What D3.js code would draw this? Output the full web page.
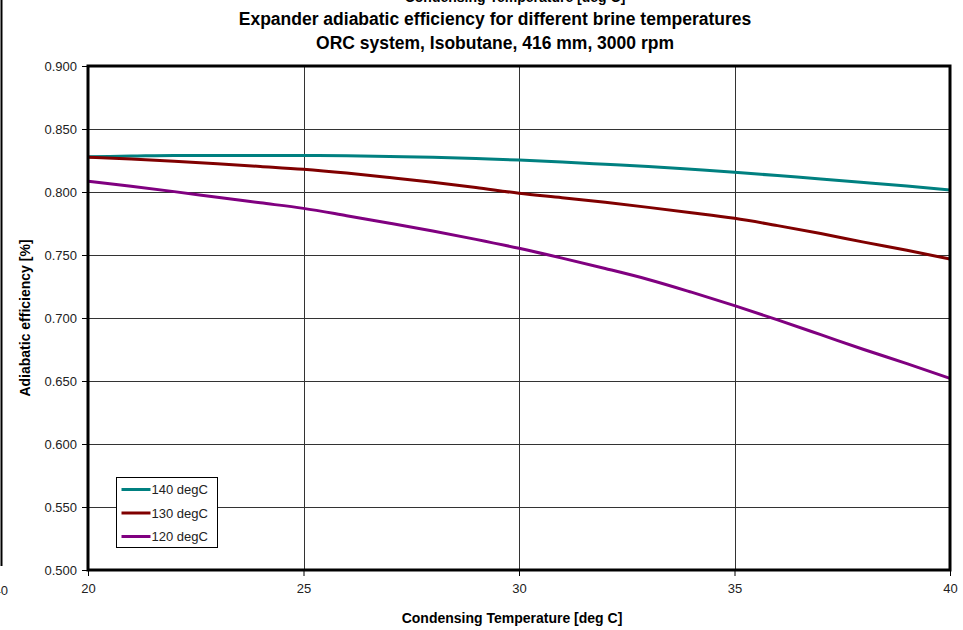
<!DOCTYPE html>
<html>
<head>
<meta charset="utf-8">
<script src="https://cdn.jsdelivr.net/npm/d3@7"></script>
<style>
  body { margin: 0; background: #fff; }
  svg text { font-family: Arial, "Liberation Sans", sans-serif; }
</style>
</head>
<body>
<svg width="963" height="630"></svg>
<script>
// condensing temperature [deg C]
var temps = [20, 21, 22, 23, 24, 25, 26, 27, 28, 29, 30, 31, 32, 33, 34, 35, 36, 37, 38, 39, 40];

// adiabatic efficiency per brine temperature
var eff140 = [0.828, 0.8285, 0.829, 0.829, 0.829, 0.829, 0.8288, 0.8282, 0.8275, 0.8265, 0.8254,
              0.8238, 0.822, 0.8202, 0.818, 0.8157, 0.813, 0.8104, 0.8076, 0.8047, 0.8016];
var eff130 = [0.8276, 0.8262, 0.8245, 0.8225, 0.8203, 0.818, 0.815, 0.8115, 0.8078, 0.8036, 0.799,
              0.7955, 0.7918, 0.7878, 0.7836, 0.7791, 0.7733, 0.767, 0.7602, 0.7537, 0.7468];
var eff120 = [0.8085, 0.8045, 0.8003, 0.7958, 0.7914, 0.787, 0.7812, 0.7752, 0.769, 0.7624, 0.7553,
              0.7475, 0.7393, 0.7306, 0.7205, 0.7098, 0.6985, 0.6868, 0.675, 0.6638, 0.6521];

var seriesNames = ["140 degC", "130 degC", "120 degC"];
var seriesColors = ["#008080", "#800000", "#800080"];

var xTicks = [20, 25, 30, 35, 40];
var yTicks = [0.5, 0.55, 0.6, 0.65, 0.7, 0.75, 0.8, 0.85, 0.9];

var series = [eff140, eff130, eff120].map(function(vals, i) {
  return {
    name: seriesNames[i],
    color: seriesColors[i],
    values: temps.map(function(t, j) { return { t: t, v: vals[j] }; })
  };
});

var svg = d3.select("svg");

var plot = { left: 88, right: 950, top: 66, bottom: 570 };

var x = d3.scaleLinear().domain([20, 40]).range([plot.left, plot.right]);
var y = d3.scaleLinear().domain([0.5, 0.9]).range([plot.bottom, plot.top]);

// leftover edge of a neighbouring chart
svg.append("line")
  .attr("x1", 1.5).attr("x2", 1.5)
  .attr("y1", 0).attr("y2", 566)
  .attr("stroke", "#000").attr("stroke-width", 2);
svg.append("text")
  .attr("x", 8).attr("y", 595)
  .attr("text-anchor", "end")
  .attr("font-size", 13)
  .attr("fill", "#222")
  .text("40");

// titles
svg.append("text")
  .attr("x", 515).attr("y", 2)
  .attr("text-anchor", "middle")
  .attr("font-size", 14).attr("font-weight", "bold")
  .text("Condensing Temperature [deg C]");
svg.append("text")
  .attr("x", 495).attr("y", 25)
  .attr("text-anchor", "middle")
  .attr("font-size", 17.5).attr("font-weight", "bold")
  .text("Expander adiabatic efficiency for different brine temperatures");
svg.append("text")
  .attr("x", 495).attr("y", 49)
  .attr("text-anchor", "middle")
  .attr("font-size", 17.5).attr("font-weight", "bold")
  .text("ORC system, Isobutane, 416 mm, 3000 rpm");

// gridlines
svg.append("g")
  .selectAll("line")
  .data(yTicks.slice(1, -1))
  .enter()
  .append("line")
  .attr("x1", plot.left).attr("x2", plot.right)
  .attr("y1", function(d) { return Math.round(y(d)) + 0.5; })
  .attr("y2", function(d) { return Math.round(y(d)) + 0.5; })
  .attr("stroke", "#333").attr("stroke-width", 1);

svg.append("g")
  .selectAll("line")
  .data(xTicks.slice(1, -1))
  .enter()
  .append("line")
  .attr("y1", plot.top).attr("y2", plot.bottom)
  .attr("x1", function(d) { return Math.round(x(d)) + 0.5; })
  .attr("x2", function(d) { return Math.round(x(d)) + 0.5; })
  .attr("stroke", "#333").attr("stroke-width", 1);

// axes
var yAxis = svg.append("g")
  .attr("transform", "translate(" + (plot.left - 1) + ",0)")
  .call(d3.axisLeft(y).tickValues(yTicks).tickFormat(d3.format(".3f")).tickSize(5).tickPadding(5));
yAxis.select(".domain").remove();
yAxis.selectAll("text").attr("font-size", 13).attr("fill", "#222").attr("font-family", "Arial, 'Liberation Sans', sans-serif");

var xAxis = svg.append("g")
  .attr("transform", "translate(0," + (plot.bottom + 1) + ")")
  .call(d3.axisBottom(x).tickValues(xTicks).tickFormat(d3.format("d")).tickSize(5).tickPadding(8));
xAxis.select(".domain").remove();
xAxis.selectAll("text").attr("font-size", 13).attr("fill", "#222").attr("font-family", "Arial, 'Liberation Sans', sans-serif");

// series lines
var line = d3.line()
  .x(function(d) { return x(d.t); })
  .y(function(d) { return y(d.v); })
  .curve(d3.curveMonotoneX);

svg.append("g")
  .selectAll("path")
  .data(series)
  .enter()
  .append("path")
  .attr("d", function(d) { return line(d.values); })
  .attr("fill", "none")
  .attr("stroke", function(d) { return d.color; })
  .attr("stroke-width", 3);

// plot border
svg.append("rect")
  .attr("x", plot.left).attr("y", plot.top)
  .attr("width", plot.right - plot.left)
  .attr("height", plot.bottom - plot.top)
  .attr("fill", "none")
  .attr("stroke", "#000").attr("stroke-width", 3);

// axis titles
svg.append("text")
  .attr("x", 512).attr("y", 623)
  .attr("text-anchor", "middle")
  .attr("font-size", 14).attr("font-weight", "bold")
  .text("Condensing Temperature [deg C]");
svg.append("text")
  .attr("transform", "translate(30,318) rotate(-90)")
  .attr("text-anchor", "middle")
  .attr("font-size", 14).attr("font-weight", "bold")
  .text("Adiabatic efficiency [%]");

// legend
var legend = svg.append("g").attr("transform", "translate(116.5,477.5)");
legend.append("rect")
  .attr("width", 101).attr("height", 70)
  .attr("fill", "#fff").attr("stroke", "#000").attr("stroke-width", 1);
var item = legend.selectAll("g.item")
  .data(series)
  .enter()
  .append("g")
  .attr("class", "item")
  .attr("transform", function(d, i) { return "translate(0," + (12 + i * 23.5) + ")"; });
item.append("line")
  .attr("x1", 5).attr("x2", 34)
  .attr("stroke", function(d) { return d.color; })
  .attr("stroke-width", 3);
item.append("text")
  .attr("x", 35).attr("y", 4.5)
  .attr("font-size", 13)
  .attr("fill", "#222")
  .text(function(d) { return d.name; });
</script>
</body>
</html>
